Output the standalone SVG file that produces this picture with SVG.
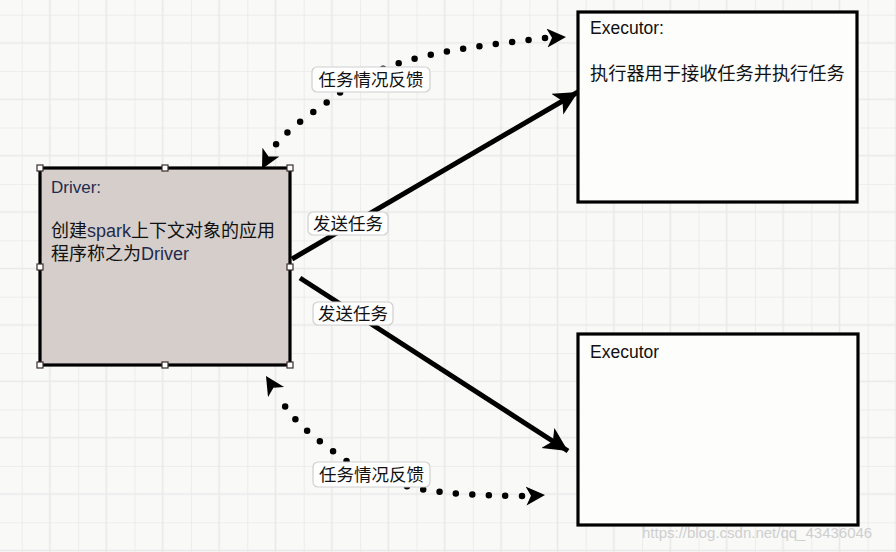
<svg xmlns="http://www.w3.org/2000/svg" width="896" height="552" viewBox="0 0 896 552">
  <defs>
    <pattern id="grid" x="21.7" y="14.7" width="56.4" height="56.4" patternUnits="userSpaceOnUse">
      <rect x="0" y="0" width="56.4" height="56.4" fill="#f9f9f8"/>
      <path d="M0,0 V56.4 M28.2,0 V56.4 M0,0 H56.4 M0,28.2 H56.4" stroke="#e8e9e8" stroke-width="1.6" fill="none"/>
    </pattern>
    <marker id="solidHead" markerUnits="userSpaceOnUse" markerWidth="28" markerHeight="26" refX="24" refY="12" orient="auto">
      <path d="M0,0 L24,12 L0,24 L6,12 Z" fill="#000"/>
    </marker>
    <marker id="dotHead" markerUnits="userSpaceOnUse" markerWidth="22" markerHeight="22" refX="19" refY="9.5" orient="auto">
      <path d="M0,0 L19,9.5 L0,19 L5,9.5 Z" fill="#000"/>
    </marker>
    <style>
      .box { stroke: #000; stroke-width: 3.2; }
      .handle { fill: #fff; stroke: #3a2a2a; stroke-width: 1.2; }
      .solid { stroke: #000; stroke-width: 5; fill: none; marker-end: url(#solidHead); }
      .dotted { stroke: #000; stroke-width: 6.5; fill: none; stroke-linecap: round; stroke-dasharray: 0 16.5; }
      .lbl { fill: #fff; stroke: #cfcfcf; stroke-width: 1.2; }
      .t { font-family: "Liberation Sans", "Noto Sans CJK SC", sans-serif; fill: #111; }
      .lt { font-family: "Liberation Sans", "Noto Sans CJK SC", sans-serif; font-size: 17.5px; fill: #111; text-anchor: middle; }
    </style>
  </defs>

  <rect x="0" y="0" width="896" height="552" fill="url(#grid)"/>

  <g id="driver">
    <rect class="box" x="40" y="168" width="250" height="197" fill="#d6cecb"/>
    <text class="t" x="51" y="193" font-size="17" style="fill:#1f2b4d">Driver:</text>
    <text class="t" x="51" y="237" font-size="18">创建<tspan style="fill:#1f2b4d">spark</tspan>上下文对象的应用</text>
    <text class="t" x="51" y="260" font-size="18">程序称之为<tspan style="fill:#1f2b4d">Driver</tspan></text>
    <rect class="handle" x="37" y="165" width="6" height="6"/>
    <rect class="handle" x="162" y="165" width="6" height="6"/>
    <rect class="handle" x="287" y="165" width="6" height="6"/>
    <rect class="handle" x="37" y="264" width="6" height="6"/>
    <rect class="handle" x="287" y="264" width="6" height="6"/>
    <rect class="handle" x="37" y="362" width="6" height="6"/>
    <rect class="handle" x="162" y="362" width="6" height="6"/>
    <rect class="handle" x="287" y="362" width="6" height="6"/>
  </g>

  <g id="executor1">
    <rect class="box" x="578" y="12" width="279" height="190" fill="#fdfdfc"/>
    <text class="t" x="590" y="34" font-size="17.5">Executor:</text>
    <text class="t" x="590" y="80" font-size="18.2">执行器用于接收任务并执行任务</text>
  </g>

  <g id="executor2">
    <rect class="box" x="578" y="334" width="280" height="191" fill="#fdfdfc"/>
    <text class="t" x="590" y="358" font-size="17.5">Executor</text>
  </g>

  <g id="connectors">
    <line class="solid" x1="292" y1="259" x2="578" y2="92"/>
    <line class="solid" x1="300" y1="278" x2="568" y2="451"/>
    <path class="dotted" d="M545,38 C440,50 380,60 337,95 C310,115 285,130 272,150"/>
    <path d="M272,150 L262,169" stroke="none" fill="none" marker-end="url(#dotHead)"/>
    <path d="M548,38 L566,37" stroke="none" fill="none" marker-end="url(#dotHead)"/>
    <path class="dotted" d="M522,496 C440,495 390,490 345,460 C310,435 292,420 280,398"/>
    <path d="M276,392 L266,376" stroke="none" fill="none" marker-end="url(#dotHead)"/>
    <path d="M525,496 L545,495" stroke="none" fill="none" marker-end="url(#dotHead)"/>

    <rect class="lbl" x="308" y="212" width="80" height="23" rx="5"/>
    <text class="lt" x="348" y="230">发送任务</text>
    <rect class="lbl" x="313" y="302" width="80" height="23" rx="5"/>
    <text class="lt" x="353" y="320">发送任务</text>
    <rect class="lbl" x="312" y="67" width="118" height="25" rx="5"/>
    <text class="lt" x="371" y="86">任务情况反馈</text>
    <rect class="lbl" x="313" y="462" width="117" height="25" rx="5"/>
    <text class="lt" x="371.5" y="481">任务情况反馈</text>
  </g>

  <text x="642" y="538" font-family="Liberation Sans, sans-serif" font-size="15" fill="#c8c8c8" opacity="0.85">https://blog.csdn.net/qq_43436046</text>
</svg>
